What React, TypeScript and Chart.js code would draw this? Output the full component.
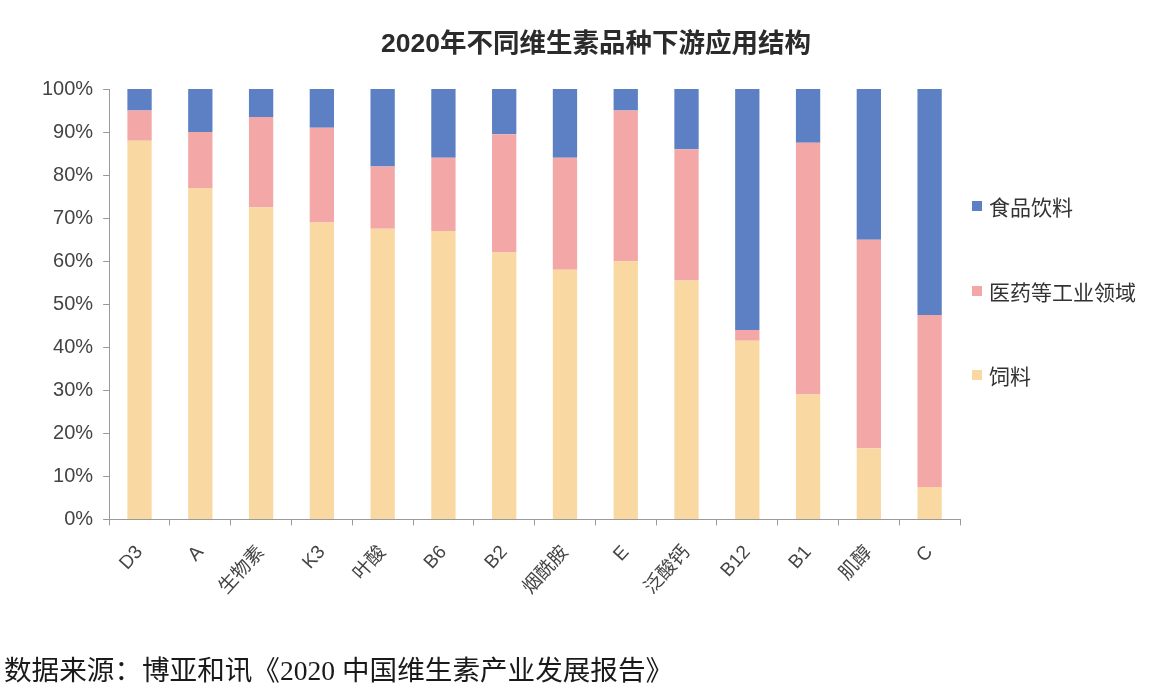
import React, { useEffect, useRef } from "react";
import { Chart, registerables } from "chart.js";

Chart.register(...registerables);

// Vitamin varieties on the x axis
const categories = ["D3", "A", "生物素", "K3", "叶酸", "B6", "B2", "烟酰胺", "E", "泛酸钙", "B12", "B1", "肌醇", "C"];

// Share of downstream use (%) per variety, stacked bottom to top
const feedShare = [88, 77, 72.5, 69, 67.5, 67, 62, 58, 60, 55.5, 41.5, 29, 16.5, 7.5];
const pharmaShare = [7, 13, 21, 22, 14.5, 17, 27.5, 26, 35, 30.5, 2.5, 58.5, 48.5, 40];
const foodShare = [5, 10, 6.5, 9, 18, 16, 10.5, 16, 5, 14, 56, 12.5, 35, 52.5];

const seriesNames = ["饲料", "医药等工业领域", "食品饮料"];
const seriesColors = ["#f9d9a1", "#f3a8a7", "#5d80c4"];

const yTicks = [0, 10, 20, 30, 40, 50, 60, 70, 80, 90, 100];

const titleText = "2020年不同维生素品种下游应用结构";
const sourceText = "数据来源：博亚和讯《2020 中国维生素产业发展报告》";

const sansFamily = '"Liberation Sans", "Noto Sans CJK SC", Arial, sans-serif';

export default function App() {
  const canvasRef = useRef<HTMLCanvasElement | null>(null);

  useEffect(() => {
    const canvas = canvasRef.current;
    if (!canvas) return;
    const values = [feedShare, pharmaShare, foodShare];
    const chart = new Chart(canvas, {
      type: "bar",
      data: {
        labels: categories,
        datasets: values.map((data, i) => ({
          label: seriesNames[i],
          data,
          backgroundColor: seriesColors[i],
          borderWidth: 0,
          barPercentage: 0.4,
          categoryPercentage: 1,
        })),
      },
      options: {
        animation: false,
        responsive: true,
        maintainAspectRatio: false,
        layout: { padding: { left: 32, right: 192, top: 89, bottom: 80 } },
        plugins: {
          legend: { display: false },
          title: { display: false },
          tooltip: { enabled: false },
        },
        scales: {
          x: {
            stacked: true,
            grid: {
              display: true,
              drawOnChartArea: false,
              drawTicks: true,
              tickLength: 6,
              color: "#9a9a9a",
              offset: true,
            },
            border: { display: true, color: "#9a9a9a", width: 1 },
            ticks: {
              autoSkip: false,
              minRotation: 48,
              maxRotation: 48,
              padding: 16,
              color: "#444",
              font: { family: sansFamily, size: 19 },
            },
          },
          y: {
            stacked: true,
            min: 0,
            max: 100,
            afterBuildTicks: (axis: any) => {
              axis.ticks = yTicks.map((v) => ({ value: v }));
            },
            grid: {
              display: true,
              drawOnChartArea: false,
              drawTicks: true,
              tickLength: 6,
              color: "#9a9a9a",
            },
            border: { display: true, color: "#9a9a9a", width: 1 },
            ticks: {
              padding: 10,
              color: "#444",
              font: { family: sansFamily, size: 20 },
              callback: (v: any) => `${v}%`,
            },
          },
        },
      },
    });
    return () => chart.destroy();
  }, []);

  const legendItems = [
    { name: seriesNames[2], color: seriesColors[2], y: 206 },
    { name: seriesNames[1], color: seriesColors[1], y: 291 },
    { name: seriesNames[0], color: seriesColors[0], y: 375 },
  ];

  return (
    <div
      style={{
        position: "fixed",
        left: 0,
        top: 0,
        width: 1152,
        height: 695,
        overflow: "hidden",
        background: "#fff",
      }}
    >
      <canvas ref={canvasRef} style={{ position: "absolute", left: 0, top: 0, width: 1152, height: 695 }} />
      <div
        style={{
          position: "absolute",
          left: 596,
          top: 29,
          transform: "translateX(-50%)",
          whiteSpace: "nowrap",
          fontFamily: sansFamily,
          fontWeight: 700,
          fontSize: 26.5,
          lineHeight: "28px",
          color: "#2b2b2b",
        }}
      >
        {titleText}
      </div>
      {legendItems.map((item) => (
        <div
          key={item.name}
          style={{
            position: "absolute",
            left: 972,
            top: item.y - 15,
            height: 30,
            display: "flex",
            alignItems: "center",
            whiteSpace: "nowrap",
            fontFamily: sansFamily,
            fontSize: 21,
            color: "#333",
          }}
        >
          <span style={{ display: "inline-block", width: 10, height: 10, background: item.color, marginRight: 7 }} />
          <span>{item.name}</span>
        </div>
      ))}
      <div
        style={{
          position: "absolute",
          left: 4,
          top: 655,
          whiteSpace: "nowrap",
          fontFamily: '"Liberation Serif", "Noto Sans CJK SC", serif',
          fontSize: 27.6,
          lineHeight: "32px",
          color: "#1a1a1a",
        }}
      >
        {sourceText}
      </div>
    </div>
  );
}
